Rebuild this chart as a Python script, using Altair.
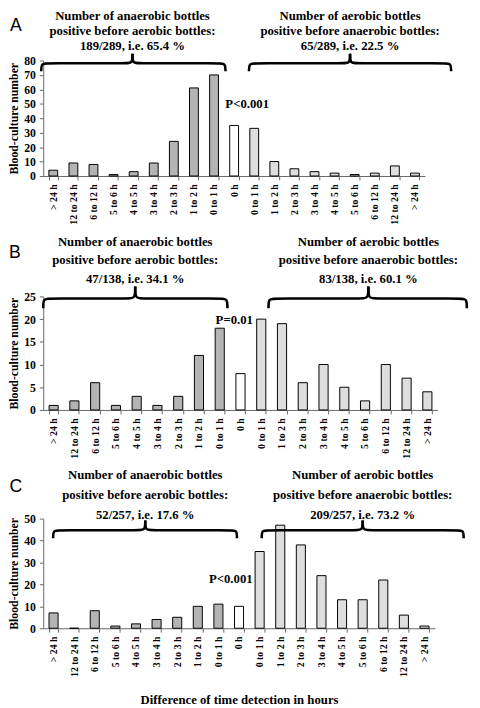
import json
import altair as alt
import pandas as pd

# ---------------- data ----------------
labels = ["> 24 h", "12 to 24 h", "6 to 12 h", "5 to 6 h", "4 to 5 h", "3 to 4 h",
          "2 to 3 h", "1 to 2 h", "0 to 1 h", "0 h", "0 to 1 h", "1 to 2 h",
          "2 to 3 h", "3 to 4 h", "4 to 5 h", "5 to 6 h", "6 to 12 h", "12 to 24 h", "> 24 h"]
groups = ["anaerobic first"] * 9 + ["same time"] + ["aerobic first"] * 9

values_a = [4, 9, 8, 1, 3, 9, 24, 61, 70, 35, 33, 10, 5, 3, 2, 1, 2, 7, 2]
values_b = [1, 2, 6, 1, 3, 1, 3, 12, 18, 8, 20, 19, 6, 10, 5, 2, 10, 7, 4]
values_c = [7, 0, 8, 1, 2, 4, 5, 10, 11, 10, 35, 47, 38, 24, 13, 13, 22, 6, 1]

left_header = ["Number of anaerobic bottles", "positive before aerobic bottles:"]
right_header = ["Number of aerobic bottles", "positive before anaerobic bottles:"]
ratios_a = ["189/289, i.e. 65.4 %", "65/289, i.e. 22.5 %"]
ratios_b = ["47/138, i.e. 34.1 %", "83/138, i.e. 60.1 %"]
ratios_c = ["52/257, i.e. 17.6 %", "209/257, i.e. 73.2 %"]
p_texts = ["P<0.001", "P=0.01", "P<0.001"]

group_domain = ["anaerobic first", "same time", "aerobic first"]
group_colors = ["#b4b4b4", "#ffffff", "#dedede"]

SERIF = "Liberation Serif"
N = len(labels)
label_expr = json.dumps(labels) + "[datum.value]"


def brace_rows(x0, xp, x1, name):
    rows = []
    halves = [
        [(x0, 0), (x0, 0.45), (x0 + 0.3, 0.45), (xp - 0.3, 0.45), (xp, 0.45), (xp, 1)],
        [(xp, 1), (xp, 0.45), (xp + 0.3, 0.45), (x1 - 0.3, 0.45), (x1, 0.45), (x1, 0)],
    ]
    for h, pts in enumerate(halves):
        for k, (x, y) in enumerate(pts):
            rows.append({"x": x, "y": y, "seg": f"{name}{h}", "ord": k})
    return rows


def panel(letter, values, ymax, ystep, width, height, ratios, ptext, p_pos,
          left_brace, right_brace, header_range, brace_range, letter_pos, xtitle):
    df = pd.DataFrame({"idx": list(range(N)), "value": values, "group": groups})
    xaxis = alt.Axis(
        labelExpr=label_expr, labelAngle=270, labelFont=SERIF, labelFontWeight="bold",
        labelFontSize=10, labelColor="black", labelPadding=4,
        tickBand="extent", tickSize=4, tickColor="#666", domainColor="#666",
        title=xtitle if xtitle else None, titleFont=SERIF, titleFontWeight="bold",
        titleFontSize=13, titleColor="black", titlePadding=18,
    )
    yaxis = alt.Axis(
        values=list(range(0, ymax + 1, ystep)), title="Blood-culture number",
        titleFont=SERIF, titleFontWeight="bold", titleFontSize=12, titleColor="black",
        titlePadding=3, labelFont=SERIF, labelFontWeight="bold", labelFontSize=12,
        labelColor="black", labelPadding=4, tickSize=4, tickColor="#666",
        domainColor="#666", grid=False,
    )
    bars = alt.Chart(df).mark_bar(stroke="black", strokeWidth=1).encode(
        x=alt.X("idx:O", scale=alt.Scale(paddingInner=0.56, paddingOuter=0.28), axis=xaxis),
        y=alt.Y("value:Q", scale=alt.Scale(domain=[0, ymax], nice=False), axis=yaxis),
        color=alt.Color("group:N", scale=alt.Scale(domain=group_domain, range=group_colors),
                        legend=None),
    )

    xs = alt.Scale(domain=[0, N], nice=False, zero=False)

    bdf = pd.DataFrame(brace_rows(*left_brace, "L") + brace_rows(*right_brace, "R"))
    braces = alt.Chart(bdf).mark_line(interpolate="basis", color="black",
                                      strokeWidth=2.6).encode(
        x=alt.X("x:Q", scale=xs, axis=None),
        y=alt.Y("y:Q", scale=alt.Scale(domain=[0, 1], range=brace_range), axis=None),
        detail="seg:N",
        order="ord:Q",
    )

    hdf = pd.DataFrame({
        "x": [left_brace[1]] * 3 + [right_brace[1]] * 3,
        "line": [0, 1, 2] * 2,
        "text": left_header + [ratios[0]] + right_header + [ratios[1]],
    })
    headers = alt.Chart(hdf).mark_text(font=SERIF, fontWeight="bold", fontSize=13,
                                       baseline="middle", align="center",
                                       color="black").encode(
        x=alt.X("x:Q", scale=xs, axis=None),
        y=alt.Y("line:Q", scale=alt.Scale(domain=[0, 2], range=header_range), axis=None),
        text="text:N",
    )

    pdf = pd.DataFrame({"x": [p_pos[0]], "y": [p_pos[1]], "text": [ptext]})
    ptxt = alt.Chart(pdf).mark_text(font=SERIF, fontWeight="bold", fontSize=13,
                                    baseline="middle", align="center",
                                    color="black").encode(
        x=alt.X("x:Q", scale=xs, axis=None),
        y=alt.Y("y:Q", scale=alt.Scale(domain=[0, ymax], nice=False), axis=None),
        text="text:N",
    )

    ldf = pd.DataFrame({"t": [letter]})
    let = alt.Chart(ldf).mark_text(font="Liberation Sans", fontSize=18, align="center",
                                   baseline="middle", color="black").encode(
        x=alt.value(letter_pos[0]), y=alt.value(letter_pos[1]), text="t:N",
    )

    return alt.layer(bars, braces, headers, ptxt, let).resolve_scale(
        x="independent", y="independent"
    ).properties(width=width, height=height)


pa = panel("A", values_a, 80, 10, 390, 118, ratios_a, p_texts[0], (10.15, 49.5),
           (-0.1, 4.44, 9.07), (10.24, 15.27, 20.3), [-45, -15], [11, -7], (-28, -35), None)
pb = panel("B", values_b, 25, 5, 403, 116, ratios_b, p_texts[1], (9.2, 19.8),
           (0.0, 4.43, 8.87), (10.85, 15.66, 20.4), [-56, -18], [12, -10], (-29, -44), None)
pc = panel("C", values_c, 50, 10, 400, 112, ratios_c, p_texts[2], (9.1, 22.5),
           (0.48, 4.95, 9.4), (10.6, 15.5, 20.4), [-44, -4], [20, 2], (-28, -32),
           "Difference of time detection in hours")

chart = alt.vconcat(pa, pb, pc, spacing=11).properties(
    padding={"left": 0, "top": -5, "right": 0, "bottom": 0}
).configure_view(stroke=None)

chart.save("out.html", embed_options={"renderer": "svg", "actions": False})
